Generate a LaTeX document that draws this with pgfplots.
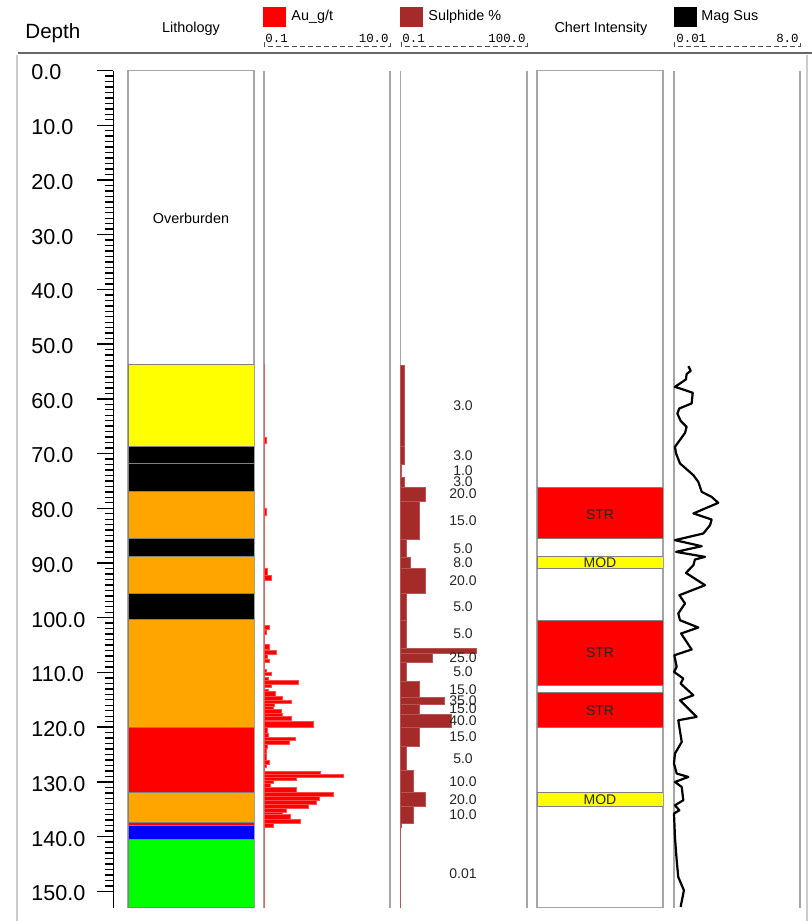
\documentclass[border=0pt]{standalone}
\usepackage{fontspec}
\setmainfont{Liberation Sans}
\newfontfamily\monofont{Liberation Mono}
\usepackage{pgfplots}
\pgfplotsset{compat=1.18}
\usepackage{pgfplotstable}

\definecolor{aured}{RGB}{255,0,0}
\definecolor{sulcol}{RGB}{165,42,42}
\definecolor{lyellow}{RGB}{255,255,0}
\definecolor{lorange}{RGB}{255,165,0}
\definecolor{lgreen}{RGB}{0,255,0}
\definecolor{lblue}{RGB}{0,0,255}
\definecolor{bordergray}{RGB}{165,165,165}
\definecolor{unitgray}{RGB}{128,128,128}

% Au g/t : start depth, value (interval to next row)
\pgfplotstableread{
d v
53.7 0
66.99 0.16
68.1 0
79.98 0.16
81.26 0
90.95 0.24
92.23 0.56
93.14 0
101.37 0.4
102.1 0
102.28 0.2
103.02 0
104.85 0.4
105.76 0
105.94 1.0
106.67 0.24
107.4 0
107.59 0.4
108.13 0
109.41 0.16
109.96 0.63
110.51 0
110.88 0.32
111.43 2.7
112.16 0.56
112.71 0
113.07 0.32
113.44 0.87
114.35 1.43
115.08 2.14
115.63 0.8
116.18 0.71
116.73 1.35
117.46 1.5
118.01 2.14
118.74 0
118.92 3.9
120.02 0.24
121.12 0.32
121.85 2.46
122.4 1.98
123.13 0.24
123.86 0.16
124.77 0.16
126.05 0.4
126.78 0.16
127.33 0
128.06 4.5
128.61 6.3
129.16 2.54
129.71 0.71
130.26 0.48
130.99 2.6
131.9 5.5
132.63 4.4
133.36 4.2
134.1 3.5
134.83 1.8
135.56 1.5
135.92 2.06
136.84 2.86
137.57 0.71
138.3 0
153 0
}\autable

% Sulphide %
\pgfplotstableread{
d v
53.84 3
68.7 3
71.94 1
74.32 3
76.14 20
78.7 15
85.65 5
88.94 8
90.95 20
95.54 5
100.48 5
105.58 60
106.49 25
108.14 5
111.61 15
114.53 35
115.81 15
117.64 40
120.02 15
123.49 5
127.88 10
131.9 20
134.46 10
137.57 1
138.3 0.01
153 0.01
}\sultable

% Mag Sus
\pgfplotstableread{
d v
54.02 0.91
54.88 1.06
55.48 0.80
56.45 0.76
57.81 0.06
58.41 0.70
58.90 1.19
60.84 1.12
61.76 0.34
62.67 0.21
64.02 0.42
65.12 0.80
66.22 0.70
68.78 0.06
69.98 0.13
71.81 0.38
73.95 1.23
75.17 1.54
77.00 1.76
77.92 2.39
79.01 2.81
80.95 1.23
82.05 2.39
83.09 2.29
84.61 1.86
85.83 0.06
86.93 1.76
87.97 0.13
88.88 1.97
89.36 1.33
90.40 1.23
91.81 0.76
94.06 1.97
95.89 0.34
97.40 0.70
99.23 0.27
100.46 0.38
101.79 1.54
102.89 0.45
105.81 1.12
106.86 0.02
108.99 0.17
109.91 0.00
111.11 0.59
112.03 0.42
114.17 1.23
115.08 0.38
118.13 1.44
118.74 0.27
122.70 0.49
124.83 0.06
126.65 0.00
128.48 0.17
129.10 0.91
130.02 0.06
130.93 0.49
133.36 0.59
134.28 0.06
135.19 0.34
135.79 0.00
140.07 0.06
144.32 0.17
147.39 0.27
149.82 0.63
152.87 0.42
}\magtable

\pgfplotsset{
  col/.style={scale only axis, anchor=north west, height=418.6pt, width=63pt,
    ymin=0, ymax=153, y dir=reverse, xtick=\empty, ytick=\empty},
  boxed/.style={col, xmin=0, xmax=1, axis line style={bordergray, line width=0.6pt}},
  open/.style={col, hide axis, clip=false},
  unit/.style={xbar interval, draw=unitgray, line width=0.5pt, fill=#1},
}
\tikzset{lab/.style={font=\fontsize{7}{8}\selectfont, text=black!85, inner sep=0pt}}

\begin{document}
\begin{tikzpicture}
\useasboundingbox (0,0) rectangle (406pt,-460.5pt);
\fill[white] (0,0) rectangle (406pt,-460.5pt);

\begin{scope}[x=0.5pt,y=-0.5pt]
  \draw[black!60, line width=1pt] (18,53) -- (812,53);
  \draw[black!20, line width=0.8pt] (17,55) -- (17,921);
  \draw[black!20, line width=1.2pt] (807,55) -- (807,921);
  \node[anchor=west, inner sep=0pt, font=\fontsize{10.3}{12}\selectfont] at (25,33) {Depth};
  \node[inner sep=0pt, font=\fontsize{7.2}{8}\selectfont] at (191,29) {Lithology};
  \node[inner sep=0pt, font=\fontsize{7.2}{8}\selectfont] at (601,29) {Chert Intensity};
  \fill[aured] (263,7) rectangle (286,27);
  \node[anchor=west, inner sep=0pt, font=\fontsize{7.2}{8}\selectfont] at (291,17) {Au\_g/t};
  \fill[sulcol] (400,7) rectangle (423,27);
  \node[anchor=west, inner sep=0pt, font=\fontsize{7.2}{8}\selectfont] at (428,17) {Sulphide \%};
  \fill[black] (674,7) rectangle (697,27);
  \node[anchor=west, inner sep=0pt, font=\fontsize{7.2}{8}\selectfont] at (701,17) {Mag Sus};
  \begin{scope}[font=\monofont\fontsize{6.2}{7}\selectfont, inner sep=0pt]
    \node[anchor=west] at (265,38) {0.1};
    \node[anchor=east] at (389,38) {10.0};
    \node[anchor=west] at (402,38) {0.1};
    \node[anchor=east] at (526,38) {100.0};
    \node[anchor=west] at (676,38) {0.01};
    \node[anchor=east] at (799,38) {8.0};
  \end{scope}
  \draw[black!70, line width=0.5pt, dash pattern=on 2.5pt off 1.5pt] (264,42) -- (264,46) -- (390,46) -- (390,42);
  \draw[black!70, line width=0.5pt, dash pattern=on 2.5pt off 1.5pt] (401,42) -- (401,46) -- (527,46) -- (527,42);
  \draw[black!70, line width=0.5pt, dash pattern=on 2.5pt off 1.5pt] (674,42) -- (674,46) -- (800,46) -- (800,42);
\end{scope}

% Depth ruler
\begin{axis}[at={(56.65pt,-35.25pt)}, anchor=north west, scale only axis,
  width=10pt, height=418.6pt, xmin=0, xmax=1, ymin=0, ymax=153, y dir=reverse,
  axis x line=none, axis y line*=left,
  ytick distance=10, minor y tick num=9,
  major tick length=8pt, minor tick length=4pt, tick align=outside,
  axis line style={black, line width=0.7pt},
  every tick/.style={black, line width=0.7pt},
  /pgf/number format/assume math mode=true,
  yticklabel={\pgfmathprintnumber[fixed,fixed zerofill,precision=1]{\tick}},
  yticklabel style={font=\fontsize{10.8}{12}\selectfont, anchor=west, xshift=-36.5pt, yshift=-1pt}]
\end{axis}

% Lithology
\begin{axis}[boxed, at={(64pt,-35.25pt)}]
  \addplot[unit=lyellow] coordinates {(1,53.7) (1,68.7)};
  \addplot[unit=black] coordinates {(1,68.7) (1,71.9)};
  \addplot[unit=black] coordinates {(1,71.9) (1,76.9)};
  \addplot[unit=lorange] coordinates {(1,76.9) (1,85.6)};
  \addplot[unit=black] coordinates {(1,85.6) (1,88.8)};
  \addplot[unit=lorange] coordinates {(1,88.8) (1,95.5)};
  \addplot[unit=black] coordinates {(1,95.5) (1,100.3)};
  \addplot[unit=lorange] coordinates {(1,100.3) (1,120.0)};
  \addplot[unit=aured] coordinates {(1,120.0) (1,131.9)};
  \addplot[unit=lorange] coordinates {(1,131.9) (1,137.4)};
  \addplot[unit=aured] coordinates {(1,137.4) (1,138.0)};
  \addplot[unit=lblue] coordinates {(1,138.0) (1,140.5)};
  \addplot[unit=lgreen] coordinates {(1,140.5) (1,153)};
  \node[font=\fontsize{7.2}{8}\selectfont, inner sep=0pt] at (axis cs:0.5,27.1) {Overburden};
\end{axis}

% Au g/t
\begin{axis}[open, at={(132pt,-35.25pt)}, xmin=0, xmax=10]
  \draw[bordergray, line width=0.6pt] (rel axis cs:0,0) -- (rel axis cs:0,1);
  \draw[bordergray, line width=0.6pt] (rel axis cs:1,0) -- (rel axis cs:1,1);
  \addplot[xbar interval, fill=aured, draw=aured!70, line width=0.45pt] table[x=v, y=d] {\autable};
\end{axis}

% Sulphide
\begin{axis}[open, at={(200.25pt,-35.25pt)}, width=63.25pt, xmin=0, xmax=100]
  \draw[bordergray, line width=0.6pt] (rel axis cs:0,0) -- (rel axis cs:0,1);
  \draw[bordergray, line width=0.6pt] (rel axis cs:1,0) -- (rel axis cs:1,1);
  \addplot[xbar interval, fill=sulcol, draw=sulcol!80, line width=0.45pt] table[x=v, y=d] {\sultable};
  \node[lab] at (axis cs:49.4,61.3) {3.0};
  \node[lab] at (axis cs:49.4,70.3) {3.0};
  \node[lab] at (axis cs:49.4,73.1) {1.0};
  \node[lab] at (axis cs:49.4,75.2) {3.0};
  \node[lab] at (axis cs:49.4,77.4) {20.0};
  \node[lab] at (axis cs:49.4,82.2) {15.0};
  \node[lab] at (axis cs:49.4,87.3) {5.0};
  \node[lab] at (axis cs:49.4,89.9) {8.0};
  \node[lab] at (axis cs:49.4,93.2) {20.0};
  \node[lab] at (axis cs:49.4,98.0) {5.0};
  \node[lab] at (axis cs:49.4,103.0) {5.0};
  \node[lab] at (axis cs:49.4,107.3) {25.0};
  \node[lab] at (axis cs:49.4,109.9) {5.0};
  \node[lab] at (axis cs:49.4,113.1) {15.0};
  \node[lab] at (axis cs:49.4,115.2) {35.0};
  \node[lab] at (axis cs:49.4,116.7) {15.0};
  \node[lab] at (axis cs:49.4,118.8) {40.0};
  \node[lab] at (axis cs:49.4,121.8) {15.0};
  \node[lab] at (axis cs:49.4,125.7) {5.0};
  \node[lab] at (axis cs:49.4,129.9) {10.0};
  \node[lab] at (axis cs:49.4,133.2) {20.0};
  \node[lab] at (axis cs:49.4,136.0) {10.0};
  \node[lab] at (axis cs:49.4,146.7) {0.01};
\end{axis}

% Chert intensity
\begin{axis}[boxed, at={(268.5pt,-35.25pt)}]
  \addplot[unit=aured] coordinates {(1,76.2) (1,85.5)};
  \addplot[unit=lyellow] coordinates {(1,88.9) (1,91.0)};
  \addplot[unit=aured] coordinates {(1,100.45) (1,112.3)};
  \addplot[unit=aured] coordinates {(1,113.6) (1,120.0)};
  \addplot[unit=lyellow] coordinates {(1,131.9) (1,134.45)};
  \node[lab] at (axis cs:0.5,81.1) {STR};
  \node[lab] at (axis cs:0.5,90.0) {MOD};
  \node[lab] at (axis cs:0.5,106.4) {STR};
  \node[lab] at (axis cs:0.5,117.0) {STR};
  \node[lab] at (axis cs:0.5,133.3) {MOD};
\end{axis}

% Mag Sus
\begin{axis}[open, at={(337pt,-35.25pt)}, xmin=0, xmax=8]
  \draw[bordergray, line width=0.6pt] (rel axis cs:0,0) -- (rel axis cs:0,1);
  \draw[bordergray, line width=0.6pt] (rel axis cs:1,0) -- (rel axis cs:1,1);
  \addplot[black, line width=1.1pt, line join=round] table[x=v, y=d] {\magtable};
\end{axis}
\end{tikzpicture}
\end{document}
